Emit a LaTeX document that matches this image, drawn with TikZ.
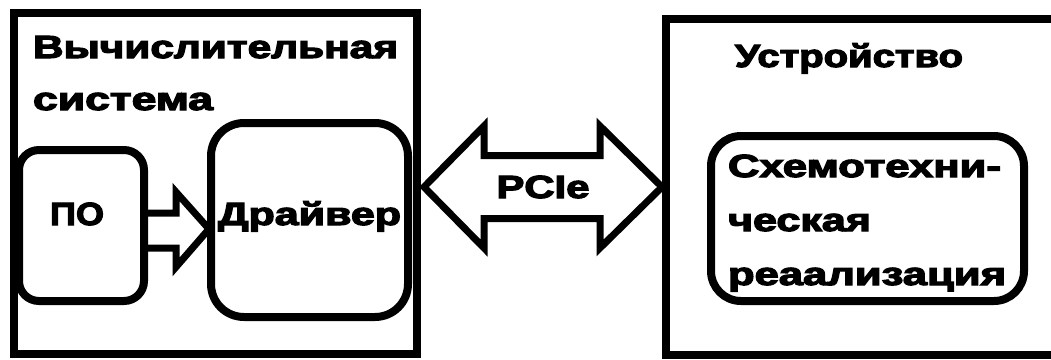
\documentclass[tikz,border=0pt]{standalone}
\usepackage{fontspec}
\usepackage{graphicx}
\newfontfamily\lblfont{Liberation Sans}[BoldFeatures={FakeBold=3.5}]
\usetikzlibrary{calc}
% set a line of text to a given width, keeping its height
\newcommand\fitw[2]{\resizebox{#1pt}{\height}{#2}}

\begin{document}
\begin{tikzpicture}[x=1pt, y=-1pt, line join=miter,
  frame/.style={draw, line width=8pt, rectangle, inner sep=0pt, outer sep=0pt},
  rbox/.style={frame, rounded corners=#1},
  lbl/.style={font=\lblfont\bfseries\fontsize{32}{#1}\selectfont,
              inner sep=0pt, outer sep=0pt, align=left, anchor=base west},
  lbl/.default=38,
  blockarrow/.style={draw, line width=7pt, line join=miter}]

\fill[white] (0,0) rectangle (1051,359);
\useasboundingbox (0,0) rectangle (1051,359);

% outer blocks
\node[frame, minimum width=403, minimum height=341] (sys) at (215.5,183.5) {};
\node[frame, minimum width=394, minimum height=336] (dev) at (863,187) {};

% inner rounded blocks
\node[rbox=20pt, minimum width=125, minimum height=151] (po)  at (81.5,225.5) {};
\node[rbox=33pt, minimum width=197, minimum height=194] (drv) at (309.5,220) {};
\node[rbox=30pt, minimum width=313, minimum height=165] (hw)  at (867.5,218.5) {};

% labels (multi-line labels are placed by the baseline of their last line)
\node[lbl=52] (systitle) at ($(sys.north west)+(19,97)$)
  {\fitw{365}{Вычислительная}\\\fitw{180}{система}};
\node[lbl] (devtitle) at ($(dev.north west)+(69,48)$) {\fitw{228}{Устройство}};
\node[lbl] (potext)  at ($(po.west)+(31,-0.5)$) {\fitw{54}{ПО}};
\node[lbl] (drvtext) at ($(drv.west)+(7,5)$) {\fitw{183}{Драйвер}};
\node[lbl=54] (hwtext) at ($(hw.north west)+(17,149)$)
  {\fitw{273}{Схемотехни-}\\\fitw{143}{ческая}\\\fitw{278}{реаализация}};

% block arrow: software -> driver
\draw[blockarrow] ($(po.east)+(0,-12.5)$) -- ++(32,0) -- ++(0,-21)
  -- ($(drv.west)+(-2,9)$) -- ($(po.east)+(32,41.5)$) -- ++(0,-19)
  -- ($(po.east)+(0,22.5)$);

% double block arrow: PCIe link
\coordinate (pl) at ($(sys.east)+(7,3.5)$);
\coordinate (pr) at ($(dev.west)+(-4,0)$);
\draw[blockarrow] (pl) -- ++(60,-61) -- ++(0,29.5) -- ++(116,0) -- ++(0,-29.5)
  -- (pr) -- ++(-62,61) -- ++(0,-29.5) -- ++(-116,0) -- ++(0,29.5) -- cycle;
\node[lbl, anchor=base] (pcie) at ($(pl)!0.5!(pr)+(0,11)$) {\fitw{93}{PCIe}};

\end{tikzpicture}
\end{document}
